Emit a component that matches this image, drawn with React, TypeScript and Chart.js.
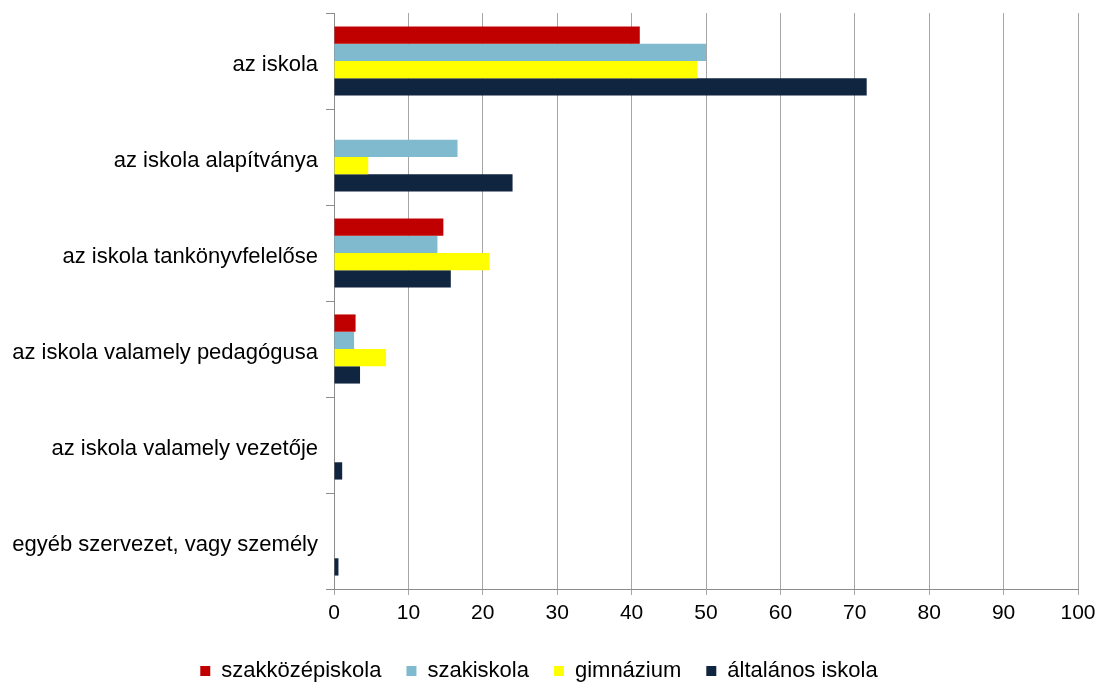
import React, { useEffect, useRef } from "react";
import { Chart, registerables } from "chart.js";

Chart.register(...registerables);

const categories = [
  "az iskola",
  "az iskola alapítványa",
  "az iskola tankönyvfelelőse",
  "az iskola valamely pedagógusa",
  "az iskola valamely vezetője",
  "egyéb szervezet, vagy személy",
];

const seriesNames = ["szakközépiskola", "szakiskola", "gimnázium", "általános iskola"];

const szakkozepiskola = [41.1, 0, 14.7, 2.9, 0, 0];
const szakiskola = [50.0, 16.6, 13.9, 2.7, 0, 0];
const gimnazium = [48.8, 4.6, 20.9, 7.0, 0, 0];
const altalanos = [71.6, 24.0, 15.7, 3.5, 1.1, 0.6];

const colors = ["#C00000", "#7FBACF", "#FFFF00", "#10253F"];

export default function App() {
  const ref = useRef<HTMLCanvasElement | null>(null);

  useEffect(() => {
    if (!ref.current) return;
    const family = "'Liberation Sans', Arial, sans-serif";
    const font = { family, size: 22 };
    const xfont = { family, size: 21 };
    const data = [szakkozepiskola, szakiskola, gimnazium, altalanos];
    const chart = new Chart(ref.current, {
      type: "bar",
      data: {
        labels: categories,
        datasets: seriesNames.map((name, i) => ({
          label: name,
          data: data[i],
          backgroundColor: colors[i],
          borderWidth: 0,
          categoryPercentage: 0.72,
          barPercentage: 1.0,
        })),
      },
      options: {
        indexAxis: "y",
        animation: false,
        responsive: false,
        maintainAspectRatio: false,
        layout: { padding: { top: 13, right: 20, left: 0, bottom: -8 } },
        plugins: {
          tooltip: { enabled: false },
          title: { display: false },
          legend: {
            position: "bottom",
            labels: {
              boxWidth: 10,
              boxHeight: 10,
              padding: 25,
              color: "#000",
              font,
            },
          },
        },
        scales: {
          y: {
            afterFit: (s: any) => {
              s.width = 334;
              s.paddingTop = 0;
              s.paddingBottom = 0;
            },
            grid: {
              drawOnChartArea: false,
              color: "#8C8C8C",
              tickLength: 8,
              offset: true,
            },
            border: { color: "#8C8C8C" },
            ticks: { color: "#000", font, padding: 8, autoSkip: false, labelOffset: 4 },
          },
          x: {
            min: 0,
            max: 100,
            afterFit: (s: any) => {
              s.height = 46;
              s.paddingLeft = 0;
              s.paddingRight = 0;
            },
            grid: { color: "#A6A6A6", tickLength: 6 },
            border: { color: "#8C8C8C" },
            ticks: { stepSize: 10, color: "#000", font: xfont, padding: 6 },
          },
        },
      },
    });
    return () => chart.destroy();
  }, []);

  return (
    <div style={{ position: "absolute", left: 0, top: 0, width: 1098, height: 684, background: "#fff" }}>
      <canvas ref={ref} width={1098} height={684} />
    </div>
  );
}
